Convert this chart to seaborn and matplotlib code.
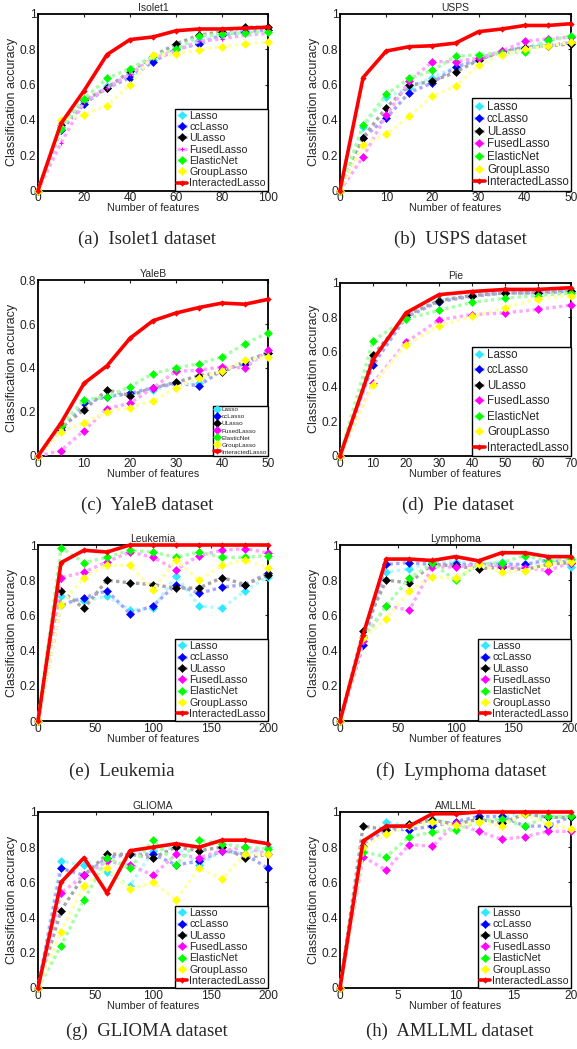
import matplotlib
matplotlib.use("Agg")
import matplotlib.pyplot as plt
import seaborn as sns
import numpy as np
from matplotlib.colors import to_rgb

sns.set_theme(style="white")
plt.rcParams['font.family'] = ['Liberation Sans', 'DejaVu Sans']

METHODS = ['Lasso', 'ccLasso', 'ULasso', 'FusedLasso', 'ElasticNet', 'GroupLasso', 'InteractedLasso']
COLORS = ['#30e8ff', '#0000ff', '#000000', '#ff00ff', '#00ff00', '#ffff00', '#ff0000']

# ---- Isolet1
ISOLET_X = [0, 10, 20, 30, 40, 50, 60, 70, 80, 90, 100]
ISOLET_LASSO = [0, 0.36, 0.50, 0.59, 0.66, 0.74, 0.80, 0.85, 0.88, 0.90, 0.91]
ISOLET_CC = [0, 0.34, 0.49, 0.58, 0.64, 0.73, 0.80, 0.83, 0.88, 0.90, 0.91]
ISOLET_U = [0, 0.37, 0.51, 0.58, 0.675, 0.76, 0.83, 0.88, 0.90, 0.925, 0.925]
ISOLET_FUSED = [0, 0.27, 0.50, 0.58, 0.66, 0.75, 0.79, 0.845, 0.86, 0.88, 0.89]
ISOLET_EN = [0, 0.35, 0.52, 0.635, 0.69, 0.76, 0.80, 0.875, 0.885, 0.895, 0.90]
ISOLET_GROUP = [0, 0.40, 0.43, 0.48, 0.60, 0.765, 0.775, 0.795, 0.815, 0.83, 0.84]
ISOLET_IL = [0, 0.38, 0.565, 0.77, 0.855, 0.87, 0.905, 0.915, 0.915, 0.92, 0.925]

# ---- USPS
USPS_X = [0, 5, 10, 15, 20, 25, 30, 35, 40, 45, 50]
USPS_LASSO = [0, 0.36, 0.53, 0.58, 0.64, 0.70, 0.74, 0.79, 0.81, 0.85, 0.87]
USPS_CC = [0, 0.30, 0.41, 0.555, 0.61, 0.70, 0.74, 0.79, 0.81, 0.82, 0.84]
USPS_U = [0, 0.30, 0.47, 0.595, 0.62, 0.67, 0.74, 0.785, 0.81, 0.82, 0.83]
USPS_FUSED = [0, 0.19, 0.425, 0.62, 0.73, 0.73, 0.75, 0.79, 0.845, 0.86, 0.87]
USPS_EN = [0, 0.37, 0.545, 0.635, 0.68, 0.76, 0.77, 0.78, 0.785, 0.85, 0.875]
USPS_GROUP = [0, 0.26, 0.32, 0.42, 0.535, 0.59, 0.71, 0.77, 0.80, 0.82, 0.84]
USPS_IL = [0, 0.64, 0.79, 0.815, 0.82, 0.835, 0.90, 0.915, 0.935, 0.935, 0.945]

# ---- YaleB
YALEB_X = [0, 5, 10, 15, 20, 25, 30, 35, 40, 45, 50]
YALEB_LASSO = [0, 0.13, 0.25, 0.27, 0.28, 0.30, 0.33, 0.33, 0.39, 0.42, 0.47]
YALEB_CC = [0, 0.12, 0.24, 0.27, 0.285, 0.31, 0.33, 0.32, 0.39, 0.42, 0.47]
YALEB_U = [0, 0.13, 0.21, 0.30, 0.275, 0.31, 0.335, 0.365, 0.38, 0.43, 0.47]
YALEB_FUSED = [0, 0.025, 0.115, 0.215, 0.24, 0.31, 0.385, 0.39, 0.405, 0.40, 0.48]
YALEB_EN = [0, 0.135, 0.255, 0.27, 0.315, 0.375, 0.40, 0.42, 0.45, 0.51, 0.56]
YALEB_GROUP = [0, 0.11, 0.15, 0.20, 0.22, 0.25, 0.31, 0.355, 0.385, 0.435, 0.45]
YALEB_IL = [0, 0.15, 0.33, 0.41, 0.535, 0.615, 0.65, 0.675, 0.695, 0.69, 0.712]

# ---- Pie
PIE_X = [0, 10, 20, 30, 40, 50, 60, 70]
PIE_LASSO = [0, 0.55, 0.80, 0.90, 0.93, 0.94, 0.94, 0.95]
PIE_CC = [0, 0.525, 0.80, 0.89, 0.92, 0.94, 0.94, 0.95]
PIE_U = [0, 0.58, 0.81, 0.895, 0.925, 0.94, 0.94, 0.95]
PIE_FUSED = [0, 0.42, 0.655, 0.785, 0.815, 0.825, 0.845, 0.87]
PIE_EN = [0, 0.665, 0.79, 0.84, 0.885, 0.91, 0.925, 0.94]
PIE_GROUP = [0, 0.41, 0.64, 0.75, 0.805, 0.855, 0.905, 0.925]
PIE_IL = [0, 0.555, 0.825, 0.93, 0.948, 0.96, 0.96, 0.97]

# ---- Leukemia
LEUK_X = [0, 20, 40, 60, 80, 100, 120, 140, 160, 180, 200]
LEUK_LASSO = [0, 0.71, 0.68, 0.71, 0.63, 0.64, 0.825, 0.655, 0.64, 0.74, 0.82]
LEUK_CC = [0, 0.66, 0.70, 0.74, 0.61, 0.655, 0.775, 0.725, 0.76, 0.775, 0.84]
LEUK_U = [0, 0.74, 0.64, 0.80, 0.785, 0.775, 0.755, 0.755, 0.815, 0.775, 0.83]
LEUK_FUSED = [0, 0.815, 0.845, 0.905, 0.96, 0.93, 0.86, 0.94, 0.97, 0.98, 0.955]
LEUK_EN = [0, 0.985, 0.90, 0.93, 0.97, 0.96, 0.93, 0.96, 0.93, 0.93, 0.94]
LEUK_GROUP = [0, 0.66, 0.815, 0.885, 0.885, 0.745, 0.915, 0.80, 0.885, 0.915, 0.87]
LEUK_IL = [0, 0.90, 0.97, 0.96, 1, 1, 1, 1, 1, 1, 1]

# ---- Lymphoma
LYMPH_X = [0, 20, 40, 60, 80, 100, 120, 140, 160, 180, 200]
LYMPH_LASSO = [0, 0.48, 0.845, 0.865, 0.905, 0.905, 0.89, 0.905, 0.88, 0.915, 0.875]
LYMPH_CC = [0, 0.43, 0.89, 0.90, 0.89, 0.89, 0.89, 0.89, 0.89, 0.915, 0.90]
LYMPH_U = [0, 0.51, 0.80, 0.785, 0.89, 0.88, 0.865, 0.875, 0.86, 0.89, 0.90]
LYMPH_FUSED = [0, 0.455, 0.655, 0.63, 0.875, 0.875, 0.89, 0.88, 0.87, 0.855, 0.90]
LYMPH_EN = [0, 0.47, 0.655, 0.81, 0.895, 0.80, 0.89, 0.90, 0.94, 0.91, 0.92]
LYMPH_GROUP = [0, 0.47, 0.58, 0.74, 0.82, 0.81, 0.89, 0.845, 0.855, 0.89, 0.905]
LYMPH_IL = [0, 0.49, 0.92, 0.92, 0.912, 0.934, 0.91, 0.956, 0.956, 0.934, 0.934]

# ---- GLIOMA
GLIOMA_X = [0, 20, 40, 60, 80, 100, 120, 140, 160, 180, 200]
GLIOMA_LASSO = [0, 0.72, 0.70, 0.66, 0.58, 0.78, 0.80, 0.70, 0.78, 0.76, 0.80]
GLIOMA_CC = [0, 0.68, 0.64, 0.74, 0.76, 0.76, 0.70, 0.72, 0.78, 0.76, 0.68]
GLIOMA_U = [0, 0.44, 0.64, 0.76, 0.76, 0.74, 0.80, 0.78, 0.80, 0.74, 0.76]
GLIOMA_FUSED = [0, 0.54, 0.64, 0.72, 0.70, 0.64, 0.76, 0.74, 0.78, 0.80, 0.76]
GLIOMA_EN = [0, 0.24, 0.50, 0.74, 0.68, 0.84, 0.70, 0.84, 0.82, 0.80, 0.79]
GLIOMA_GROUP = [0, 0.32, 0.58, 0.68, 0.56, 0.60, 0.50, 0.68, 0.62, 0.76, 0.76]
GLIOMA_IL = [0, 0.60, 0.74, 0.54, 0.78, 0.80, 0.82, 0.80, 0.84, 0.84, 0.82]

# ---- AMLLML
AML_X = [0, 2, 4, 6, 8, 10, 12, 14, 16, 18, 20]
AML_LASSO = [0, 0.80, 0.945, 0.92, 0.96, 0.93, 0.97, 0.97, 0.99, 0.97, 0.97]
AML_CC = [0, 0.805, 0.90, 0.90, 0.92, 0.945, 0.975, 0.975, 0.92, 0.92, 0.975]
AML_U = [0, 0.92, 0.90, 0.93, 0.955, 0.93, 0.96, 0.935, 0.99, 0.97, 0.97]
AML_FUSED = [0, 0.745, 0.67, 0.815, 0.805, 0.935, 0.89, 0.845, 0.86, 0.89, 0.89]
AML_EN = [0, 0.775, 0.745, 0.86, 0.885, 0.90, 0.945, 0.96, 0.92, 0.975, 0.975]
AML_GROUP = [0, 0.80, 0.875, 0.92, 0.945, 0.925, 0.945, 0.92, 0.99, 0.93, 0.905]
AML_IL = [0, 0.835, 0.92, 0.92, 0.99, 0.99, 1, 1, 1, 1, 1]

Y_TICKS_1 = [0, 0.2, 0.4, 0.6, 0.8, 1.0]
Y_LABELS_1 = ['0', '0.2', '0.4', '0.6', '0.8', '1']
Y_TICKS_08 = [0, 0.2, 0.4, 0.6, 0.8]
Y_LABELS_08 = ['0', '0.2', '0.4', '0.6', '0.8']

# title, caption, x, series, xticks, ymax, legend fontsize, labelspacing
PANELS = [
    ('Isolet1', '(a)  Isolet1 dataset', ISOLET_X,
     [ISOLET_LASSO, ISOLET_CC, ISOLET_U, ISOLET_FUSED, ISOLET_EN, ISOLET_GROUP, ISOLET_IL],
     [0, 20, 40, 60, 80, 100], 1.0, 7.7, 0.12),
    ('USPS', '(b)  USPS dataset', USPS_X,
     [USPS_LASSO, USPS_CC, USPS_U, USPS_FUSED, USPS_EN, USPS_GROUP, USPS_IL],
     [0, 10, 20, 30, 40, 50], 1.0, 8.3, 0.05),
    ('YaleB', '(c)  YaleB dataset', YALEB_X,
     [YALEB_LASSO, YALEB_CC, YALEB_U, YALEB_FUSED, YALEB_EN, YALEB_GROUP, YALEB_IL],
     [0, 10, 20, 30, 40, 50], 0.8, 4.6, 0.25),
    ('Pie', '(d)  Pie dataset', PIE_X,
     [PIE_LASSO, PIE_CC, PIE_U, PIE_FUSED, PIE_EN, PIE_GROUP, PIE_IL],
     [0, 10, 20, 30, 40, 50, 60, 70], 1.0, 8.3, 0.3),
    ('Leukemia', '(e)  Leukemia', LEUK_X,
     [LEUK_LASSO, LEUK_CC, LEUK_U, LEUK_FUSED, LEUK_EN, LEUK_GROUP, LEUK_IL],
     [0, 50, 100, 150, 200], 1.0, 7.7, 0.12),
    ('Lymphoma', '(f)  Lymphoma dataset', LYMPH_X,
     [LYMPH_LASSO, LYMPH_CC, LYMPH_U, LYMPH_FUSED, LYMPH_EN, LYMPH_GROUP, LYMPH_IL],
     [0, 50, 100, 150, 200], 1.0, 7.7, 0.12),
    ('GLIOMA', '(g)  GLIOMA dataset', GLIOMA_X,
     [GLIOMA_LASSO, GLIOMA_CC, GLIOMA_U, GLIOMA_FUSED, GLIOMA_EN, GLIOMA_GROUP, GLIOMA_IL],
     [0, 50, 100, 150, 200], 1.0, 7.7, 0.12),
    ('AMLLML', '(h)  AMLLML dataset', AML_X,
     [AML_LASSO, AML_CC, AML_U, AML_FUSED, AML_EN, AML_GROUP, AML_IL],
     [0, 5, 10, 15, 20], 1.0, 7.7, 0.12),
]

W, H = 577, 1049
fig = plt.figure(figsize=(W / 100, H / 100), dpi=100)

# axes boxes in pixels: (left, top, right, bottom)
BOXES = [
    (38, 14, 268, 190.5), (340, 14, 571, 190.5),
    (38, 280, 268, 456), (340, 282.5, 571, 456),
    (38, 545, 268, 721), (340, 545, 571, 721),
    (38, 812, 268, 988), (340, 812, 571, 988),
]
CAPTIONS_XY = [(147, 244), (460, 244), (147, 510), (458, 510),
               (122, 776), (461, 776), (147, 1036), (450, 1036)]


def pale(c, k=0.35):
    r = np.array(to_rgb(c))
    return tuple(r * k + (1 - k))


for i, (title, caption, x, series, xticks, ymax, lfs, lsp) in enumerate(PANELS):
    l, t, r, b = BOXES[i]
    ax = fig.add_axes([l / W, 1 - b / H, (r - l) / W, (b - t) / H])
    for j, (name, col, y) in enumerate(zip(METHODS, COLORS, series)):
        if name == 'InteractedLasso':
            sns.lineplot(x=x, y=y, ax=ax, color=col, lw=2.6, marker='D',
                         markersize=3.2, markeredgewidth=0, label=name,
                         estimator=None, sort=False, zorder=10, clip_on=False)
        else:
            mk = '+' if (i == 0 and name == 'FusedLasso') else 'D'
            ms = 3.0 if mk == '+' else 4.2
            sns.lineplot(x=x, y=y, ax=ax, color=pale(col), lw=2.4,
                         linestyle=(0, (1, 1)), marker=mk, markersize=ms,
                         markerfacecolor=col, markeredgecolor=col,
                         markeredgewidth=0.8 if mk == '+' else 0.4,
                         label=name, estimator=None, sort=False,
                         zorder=3 + j, clip_on=False)
    ax.set_xlim(x[0], x[-1])
    ax.set_ylim(0, ymax)
    ax.set_xticks(xticks)
    ax.set_xticklabels([str(v) for v in xticks])
    if ymax < 1:
        ax.set_yticks(Y_TICKS_08)
        ax.set_yticklabels(Y_LABELS_08)
    else:
        ax.set_yticks(Y_TICKS_1)
        ax.set_yticklabels(Y_LABELS_1)
    ax.tick_params(direction='in', length=2.5, width=0.8, top=True, right=True,
                   labelsize=8.6, pad=1.2, colors='#222222')
    for s in ax.spines.values():
        s.set_linewidth(1.3)
        s.set_color('black')
    ax.set_title(title, fontsize=7.5, pad=2.5)
    ax.set_xlabel('Number of features', fontsize=7.7, labelpad=-0.5)
    ax.set_ylabel('Classification accuracy', fontsize=9, labelpad=1.5)
    leg = ax.legend(loc='lower right', borderaxespad=0, fontsize=lfs,
                    frameon=True, fancybox=False, handlelength=0.9,
                    handletextpad=0.2, labelspacing=lsp, borderpad=0.2)
    leg.get_frame().set_edgecolor('black')
    leg.get_frame().set_linewidth(1.0)
    leg.get_frame().set_alpha(1)
    leg.set_zorder(20)
    cx, cy = CAPTIONS_XY[i]
    fig.text(cx / W, 1 - cy / H, caption, ha='center', va='baseline',
             fontsize=13.5, family=['Liberation Serif', 'DejaVu Serif'])

fig.savefig('out.png', dpi=100)
